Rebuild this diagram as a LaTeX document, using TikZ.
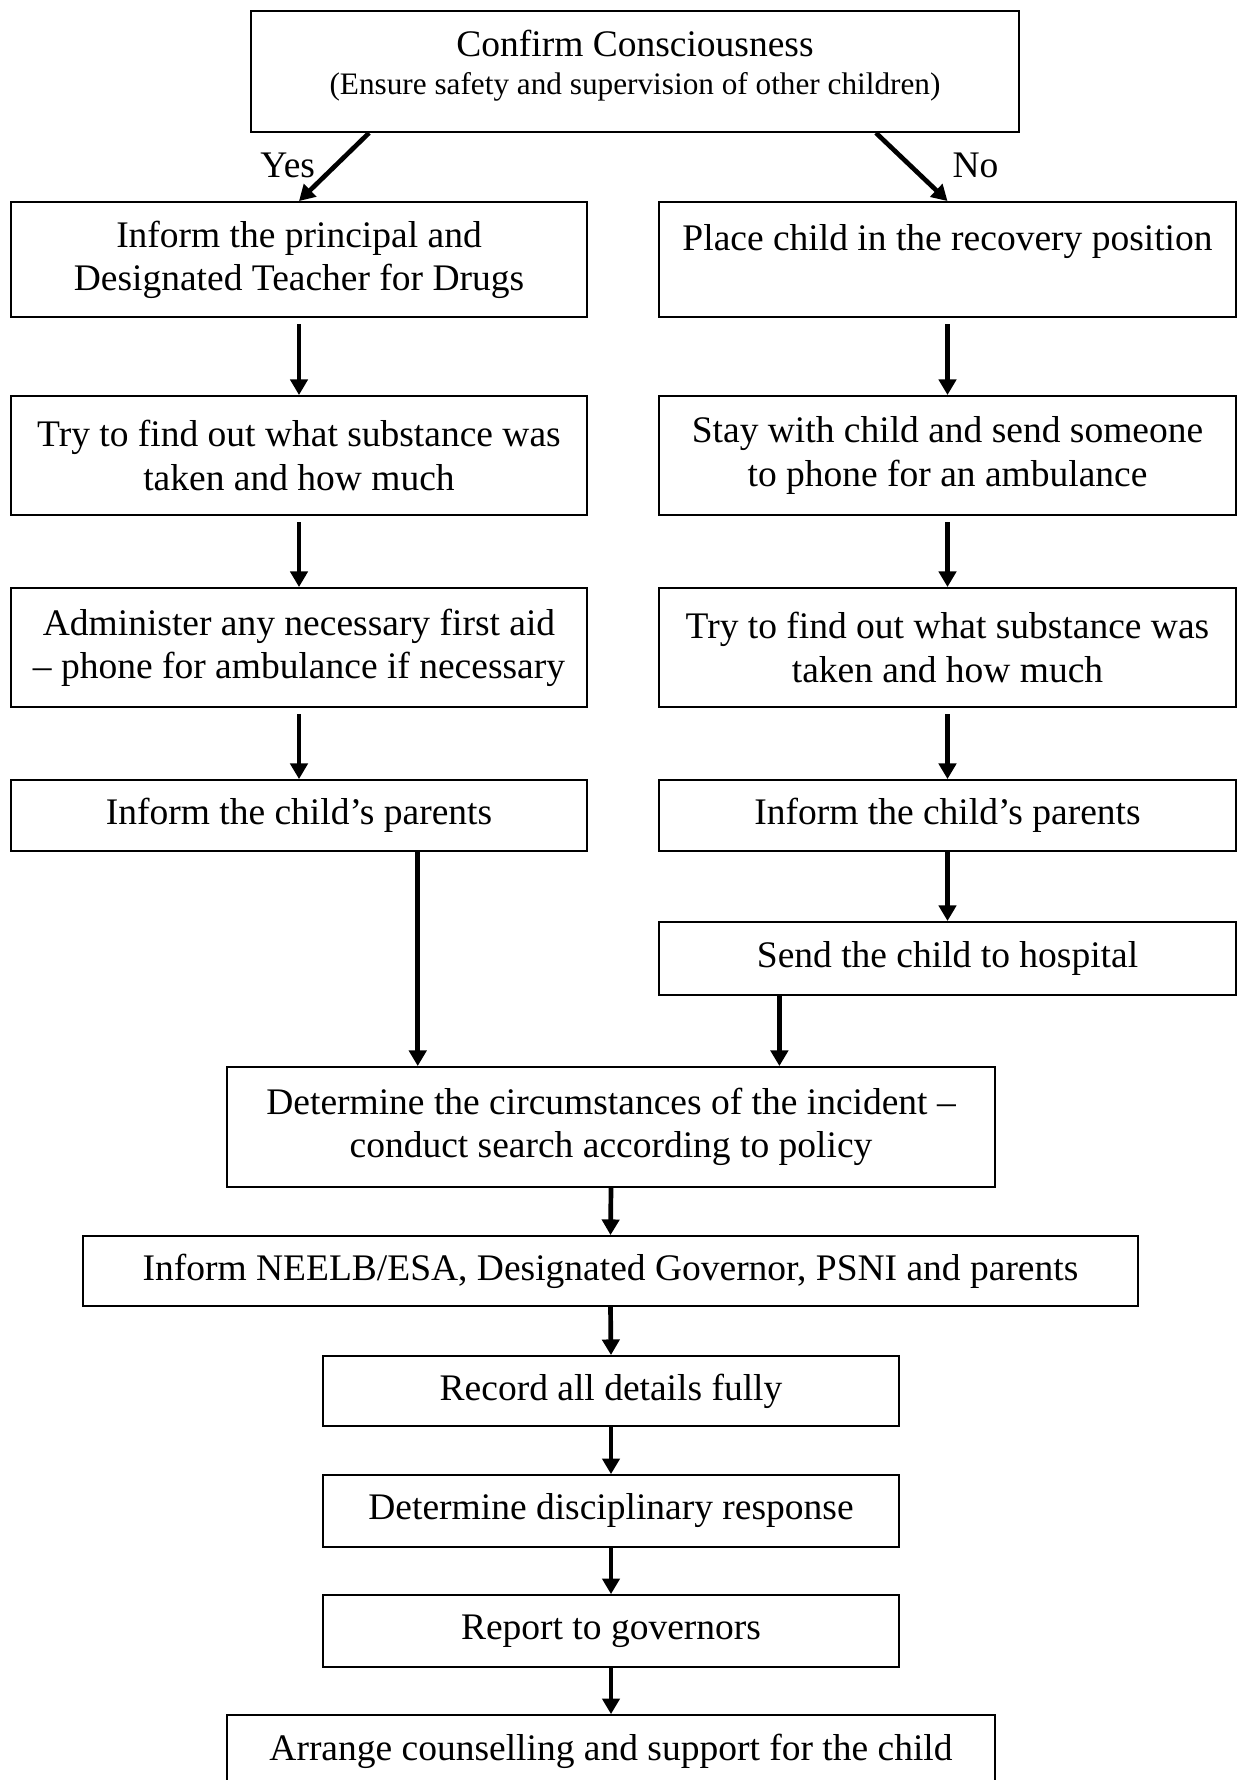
\documentclass[tikz,border=0pt]{standalone}
\usepackage{fontspec}
\setmainfont{Liberation Serif}
\usetikzlibrary{arrows.meta}
\tikzset{
	box/.style={draw,line width=0.6pt,align=center,inner sep=0pt,
		font=\fontsize{12}{13.8}\selectfont},
	colbox/.style={box,minimum width=184.4pt},
	arr/.style={line width=1.5pt,-{Triangle[length=5pt,width=5.5pt]}},
	lbl/.style={font=\fontsize{12}{13.8}\selectfont,inner sep=0pt}
}
\begin{document}
\begin{tikzpicture}[x=0.32pt,y=-0.32pt]
		\useasboundingbox (0,0) rectangle (1238,1780);
		\clip (0,0) rectangle (1238,1780);

		\node[box,minimum width=245.8pt,minimum height=38.7pt] (conf) at (635,71.5)
			{Confirm Consciousness\\[-1.8pt]{\fontsize{10}{11.5}\selectfont (Ensure safety and supervision of other children)}\\[-7.8pt]\mbox{}};

		\node[colbox,minimum height=36.8pt] (L1) at (299,259.5) {Inform the principal and\\Designated Teacher for Drugs};
		\node[colbox,minimum height=38.1pt] (L2) at (299,455.5) {Try to find out what substance was\\taken and how much};
		\node[colbox,minimum height=38.1pt] (L3) at (299,647.5) {Administer any necessary first aid\\– phone for ambulance if necessary};
		\node[colbox,minimum height=22.7pt] (L4) at (299,815.5) {Inform the child’s parents};

		\node[colbox,minimum height=36.8pt] (R1) at (947.5,259.5) {Place child in the recovery position\\\mbox{}};
		\node[colbox,minimum height=38.1pt] (R2) at (947.5,455.5) {Stay with child and send someone\\to phone for an ambulance};
		\node[colbox,minimum height=38.1pt] (R3) at (947.5,647.5) {Try to find out what substance was\\taken and how much};
		\node[colbox,minimum height=22.7pt] (R4) at (947.5,815.5) {Inform the child’s parents};
		\node[colbox,minimum height=23.4pt] (R5) at (947.5,958.5) {Send the child to hospital};

		\node[box,minimum width=245.8pt,minimum height=38.4pt] (big) at (611,1127) {Determine the circumstances of the incident –\\conduct search according to policy};
		\node[box,minimum width=337.6pt,minimum height=22.4pt] (inf) at (610.5,1271) {Inform NEELB/ESA, Designated Governor, PSNI and parents};
		\node[colbox,minimum height=22.4pt] (rec) at (611,1391) {Record all details fully};
		\node[colbox,minimum height=23pt] (disc) at (611,1511) {Determine disciplinary response};
		\node[colbox,minimum height=23pt] (rep) at (611,1631) {Report to governors};
		\node[box,minimum width=245.8pt,minimum height=23pt] (couns) at (611,1751) {Arrange counselling and support for the child};

		\draw[arr] ([xshift=-85.1pt]conf.south) -- node[lbl,pos=.47,left=6pt]{Yes} (L1.north);
		\draw[arr] ([xshift=77.1pt]conf.south) -- node[lbl,pos=.47,right=13pt]{No} (R1.north);

		\foreach \a/\b in {L1/L2,L2/L3,L3/L4,R1/R2,R2/R3,R3/R4}
			\draw[arr,shorten <=2pt] (\a.south) -- (\b.north);
		\draw[arr] (R4.south) -- (R5.north);

		\draw[arr] ([xshift=38pt]L4.south) -- ([xshift=38pt]L4.south |- big.north);
		\draw[arr] ([xshift=-53.8pt]R5.south) -- ([xshift=-53.8pt]R5.south |- big.north);

		\foreach \a/\b in {big/inf,inf/rec,rec/disc,disc/rep,rep/couns}
			\draw[arr] (\a.south) -- (\b.north);
	\end{tikzpicture}
\end{document}
